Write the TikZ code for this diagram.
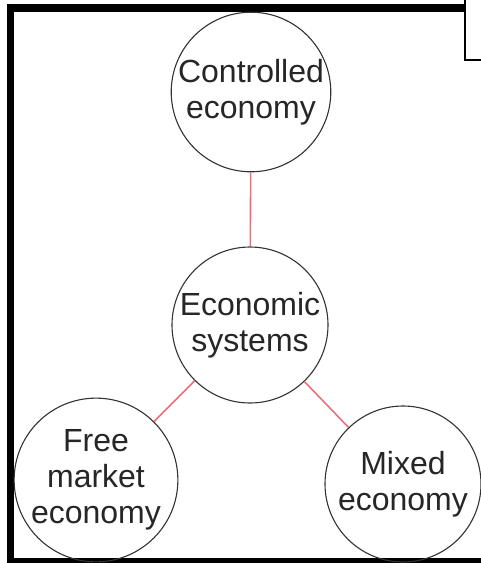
\documentclass[tikz,border=0pt]{standalone}
\usepackage{fontspec}
\setmainfont{Liberation Sans}
\definecolor{linkred}{RGB}{236,112,122}

\begin{document}
\begin{tikzpicture}[x=1pt, y=-1pt,
  econ/.style={circle, draw=black!80, line width=1.1pt, minimum size=156pt,
    inner sep=0pt, align=center, text=black!85,
    font=\fontsize{32}{36}\selectfont},
  link/.style={linkred, line width=1.6pt}]
\clip (0,0) rectangle (481,563);
\fill[white] (0,0) rectangle (481,563);
% frame and the corner box
\draw[black, line width=7.5pt] (481,561.5) -- (10.5,561.5) -- (10.5,8) -- (464,8);
\draw[black, line width=2pt] (465,-5) -- (465,60) -- (490,60);
% the four economies
\node[econ] (ctrl) at (251,92) {Controlled\\economy};
\node[econ] (sys) at (250,325) {Economic\\systems};
\node[econ] (free) at (96,480) {Free\\market\\economy};
\node[econ] (mixed) at (403,484) {Mixed\\economy};
\foreach \n in {ctrl, free, mixed}
  \draw[link] (sys) -- (\n);
\end{tikzpicture}
\end{document}
